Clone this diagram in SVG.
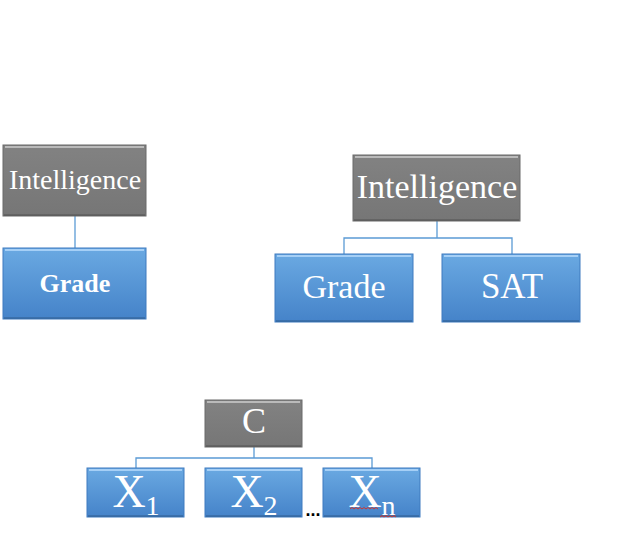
<svg xmlns="http://www.w3.org/2000/svg" width="626" height="553" viewBox="0 0 626 553">
<defs>
<linearGradient id="gBlue" x1="0" y1="0" x2="0" y2="1">
<stop offset="0" stop-color="#6aa9e2"/>
<stop offset="1" stop-color="#4583c9"/>
</linearGradient>
<linearGradient id="gGray" x1="0" y1="0" x2="0" y2="1">
<stop offset="0" stop-color="#828282"/>
<stop offset="1" stop-color="#767676"/>
</linearGradient>
<style>
.gray{fill:url(#gGray);stroke:#6a6a6a;stroke-width:1}
.blue{fill:url(#gBlue);stroke:#3f7bbf;stroke-width:1}
.hi{fill:none;stroke:#ffffff;stroke-opacity:0.45;stroke-width:2}
.hib{fill:none;stroke:#bfe0ff;stroke-opacity:0.7;stroke-width:2}
.sh{fill:none;stroke:#000;stroke-opacity:0.15;stroke-width:2}
.t{font-family:"Liberation Serif","Times New Roman",serif;fill:#ffffff;text-anchor:middle}
.conn{fill:none;stroke:#5b9bd5;stroke-width:1.3}
</style>
</defs>
<g id="connectors">
<line class="conn" x1="75" y1="216" x2="75" y2="248"/>
<path class="conn" d="M437 221 V238 M344 254 V238 H512 V254"/>
<path class="conn" d="M254 447 V458 M136 468 V458 H372 V468"/>
</g>
<g id="n-intel-left">
<rect class="gray" x="3" y="145" width="143" height="71"/>
<path class="hi" d="M5 147 H144"/>
<path class="sh" d="M4 215 H145"/>
<text class="t" x="75" y="189" font-size="28">Intelligence</text>
</g>
<g id="n-grade-left">
<rect class="blue" x="3" y="248" width="143" height="71"/>
<path class="hib" d="M5 250 H144"/>
<path class="sh" d="M4 318 H145"/>
<text class="t" x="75" y="292" font-size="26" font-weight="bold">Grade</text>
</g>
<g id="n-intel-right">
<rect class="gray" x="353" y="155" width="167" height="66"/>
<path class="hi" d="M355 157 H518"/>
<path class="sh" d="M354 220 H519"/>
<text class="t" x="437" y="198" font-size="34">Intelligence</text>
</g>
<g id="n-grade-right">
<rect class="blue" x="275" y="254" width="138" height="68"/>
<path class="hib" d="M277 256 H411"/>
<path class="sh" d="M276 321 H412"/>
<text class="t" x="344" y="298" font-size="34">Grade</text>
</g>
<g id="n-sat">
<rect class="blue" x="442" y="254" width="138" height="68"/>
<path class="hib" d="M444 256 H578"/>
<path class="sh" d="M443 321 H579"/>
<text class="t" x="512" y="298" font-size="35">SAT</text>
</g>
<g id="n-c">
<rect class="gray" x="205" y="400" width="97" height="47"/>
<path class="hi" d="M207 402 H300"/>
<path class="sh" d="M206 446 H301"/>
<text class="t" x="254" y="433" font-size="36">C</text>
</g>
<g id="n-x1">
<rect class="blue" x="87" y="468" width="97" height="49"/>
<path class="hib" d="M89 470 H182"/>
<path class="sh" d="M88 516 H183"/>
<text class="t" x="136" y="507" font-size="46">X<tspan font-size="28" dy="8">1</tspan></text>
</g>
<g id="n-x2">
<rect class="blue" x="205" y="468" width="97" height="49"/>
<path class="hib" d="M207 470 H300"/>
<path class="sh" d="M206 516 H301"/>
<text class="t" x="254" y="507" font-size="46">X<tspan font-size="28" dy="8">2</tspan></text>
</g>
<g id="n-xn">
<rect class="blue" x="323" y="468" width="97" height="49"/>
<path class="hib" d="M325 470 H418"/>
<path class="sh" d="M324 516 H419"/>
<text class="t" x="372" y="507" font-size="46">X<tspan font-size="28" dy="8">n</tspan></text>
<path d="M350 509 l2 -1.5 l2 1.5 l2 -1.5 l2 1.5 l2 -1.5 l2 1.5 l2 -1.5 l2 1.5 l2 -1.5 l2 1.5 l2 -1.5 l2 1.5 l2 -1.5 l2 1.5 M380 517 l2 -1.5 l2 1.5 l2 -1.5 l2 1.5 l2 -1.5 l2 1.5 l2 -1.5 l2 1.5" fill="none" stroke="#d0342c" stroke-width="1"/>
</g>
<text x="313" y="516" font-family="Liberation Sans, Arial, sans-serif" font-size="18" font-weight="bold" fill="#000" text-anchor="middle">...</text>
</svg>
